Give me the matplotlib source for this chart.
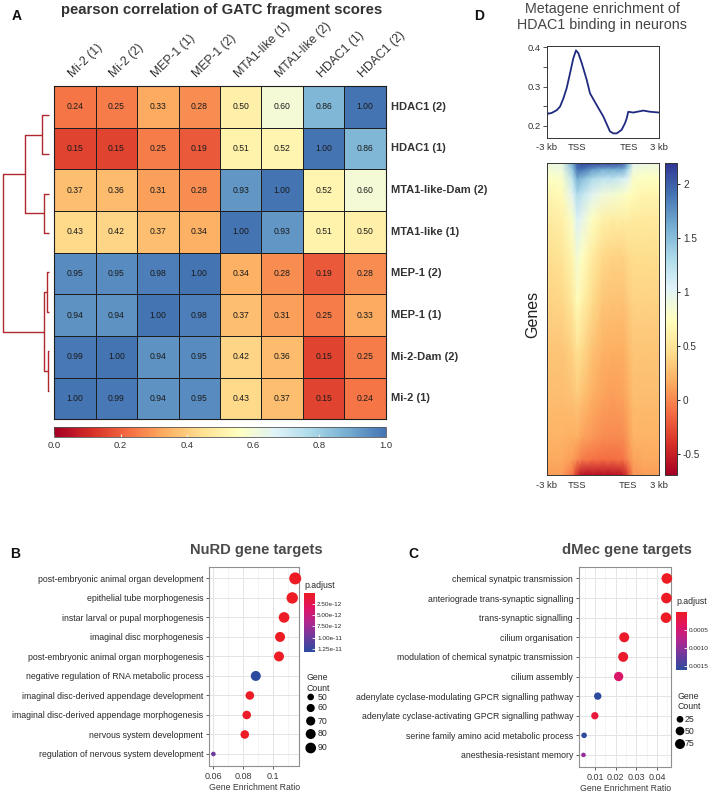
import numpy as np
import matplotlib
matplotlib.use("Agg")
import matplotlib.pyplot as plt
from matplotlib.colors import LinearSegmentedColormap, Normalize
import matplotlib.cm as cm
from matplotlib.ticker import FixedLocator

plt.rcParams['font.family'] = ['Liberation Sans', 'DejaVu Sans']

# ---------------- data ----------------
# Panel A: Pearson correlation heatmap
corr_rows = ["HDAC1 (2)", "HDAC1 (1)", "MTA1-like-Dam (2)", "MTA1-like (1)",
             "MEP-1 (2)", "MEP-1 (1)", "Mi-2-Dam (2)", "Mi-2 (1)"]
corr_cols = ["Mi-2 (1)", "Mi-2 (2)", "MEP-1 (1)", "MEP-1 (2)",
             "MTA1-like (1)", "MTA1-like (2)", "HDAC1 (1)", "HDAC1 (2)"]
corr_values = [
    [0.24, 0.25, 0.33, 0.28, 0.50, 0.60, 0.86, 1.00],
    [0.15, 0.15, 0.25, 0.19, 0.51, 0.52, 1.00, 0.86],
    [0.37, 0.36, 0.31, 0.28, 0.93, 1.00, 0.52, 0.60],
    [0.43, 0.42, 0.37, 0.34, 1.00, 0.93, 0.51, 0.50],
    [0.95, 0.95, 0.98, 1.00, 0.34, 0.28, 0.19, 0.28],
    [0.94, 0.94, 1.00, 0.98, 0.37, 0.31, 0.25, 0.33],
    [0.99, 1.00, 0.94, 0.95, 0.42, 0.36, 0.15, 0.25],
    [1.00, 0.99, 0.94, 0.95, 0.43, 0.37, 0.15, 0.24],
]
corr_cbar_ticks = [0.0, 0.2, 0.4, 0.6, 0.8, 1.0]
# dendrogram merges (leaf indices = row order; new nodes numbered from 8)
dendro_merges = [(0, 1), (2, 3), (4, 5), (6, 7), (8, 9), (10, 11), (12, 13)]
dendro_heights = [0.158, 0.102, 0.050, 0.015, 0.518, 0.102, 1.0]

# Panel D: metagene profile (deepTools bins: 300 up, 500 body, 300 down)
profile_bins = [0, 16, 49, 98, 130, 163, 195, 228, 260, 286, 309, 342, 391, 423,
                488, 553, 618, 651, 684, 732, 765, 780, 797, 846, 944, 1009, 1100]
profile_values = [0.236, 0.231, 0.233, 0.240, 0.249, 0.270, 0.296, 0.334, 0.372,
                  0.392, 0.385, 0.360, 0.317, 0.283, 0.253, 0.224, 0.186, 0.181,
                  0.181, 0.190, 0.207, 0.218, 0.236, 0.234, 0.239, 0.236, 0.234]
profile_xticks = [0, 300, 800, 1100]
profile_xlabels = ["-3 kb", "TSS", "TES", "3 kb"]
profile_yticks = [0.2, 0.3, 0.4]

# Panel D heatmap: coarse grid of enrichment values (genes sorted top->bottom)
heat_bins = [0, 150, 250, 300, 350, 450, 550, 650, 750, 800, 850, 950, 1100]
heat_rows = [0.0, 0.02, 0.05, 0.10, 0.18, 0.30, 0.45, 0.60, 0.75, 0.88, 0.95, 1.0]
heat_values = [
    [0.90, 0.95, 1.60, 2.00, 2.10, 2.10, 2.10, 2.10, 2.00, 1.60, 1.00, 0.95, 0.90],
    [0.85, 0.90, 1.40, 1.90, 1.90, 1.70, 1.60, 1.60, 1.60, 1.30, 0.90, 0.85, 0.85],
    [0.75, 0.80, 1.20, 1.60, 1.50, 1.30, 1.20, 1.20, 1.10, 1.00, 0.80, 0.75, 0.75],
    [0.65, 0.70, 1.00, 1.30, 1.20, 1.00, 0.90, 0.85, 0.80, 0.75, 0.70, 0.65, 0.65],
    [0.55, 0.60, 0.80, 1.05, 0.95, 0.75, 0.62, 0.58, 0.58, 0.58, 0.55, 0.55, 0.55],
    [0.45, 0.50, 0.65, 0.85, 0.75, 0.55, 0.42, 0.38, 0.38, 0.43, 0.45, 0.45, 0.45],
    [0.38, 0.40, 0.52, 0.70, 0.60, 0.42, 0.30, 0.28, 0.28, 0.33, 0.38, 0.38, 0.38],
    [0.30, 0.30, 0.38, 0.48, 0.42, 0.28, 0.20, 0.18, 0.18, 0.24, 0.30, 0.30, 0.30],
    [0.25, 0.25, 0.28, 0.33, 0.28, 0.18, 0.12, 0.10, 0.12, 0.18, 0.25, 0.25, 0.25],
    [0.20, 0.20, 0.18, 0.18, 0.12, 0.06, 0.02, 0.00, 0.02, 0.10, 0.20, 0.20, 0.20],
    [0.15, 0.15, 0.10, 0.02, -0.06, -0.10, -0.12, -0.12, -0.10, 0.02, 0.12, 0.15, 0.15],
    [0.10, 0.10, -0.10, -0.45, -0.60, -0.60, -0.60, -0.60, -0.55, -0.30, 0.05, 0.10, 0.10],
]
heat_range = (-0.70, 2.19)
heat_cbar_ticks = [-0.5, 0, 0.5, 1, 1.5, 2]
heat_cbar_labels = ["-0.5", "0", "0.5", "1", "1.5", "2"]

# Panel B: NuRD gene targets
nurd_terms = ["post-embryonic animal organ development",
              "epithelial tube morphogenesis",
              "instar larval or pupal morphogenesis",
              "imaginal disc morphogenesis",
              "post-embryonic animal organ morphogenesis",
              "negative regulation of RNA metabolic process",
              "imaginal disc-derived appendage development",
              "imaginal disc-derived appendage morphogenesis",
              "nervous system development",
              "regulation of nervous system development"]
nurd_ratio = [0.115, 0.113, 0.1075, 0.1048, 0.1041, 0.0885, 0.0845, 0.0824, 0.0811, 0.0600]
nurd_count = [111, 101, 89, 80, 80, 80, 64, 64, 64, 45]
nurd_padj = [2e-15, 5e-15, 1e-14, 3e-14, 4e-14, 1.32e-11, 2e-13, 3e-13, 1e-13, 1.0e-11]
nurd_xticks = [0.06, 0.08, 0.10]
nurd_xlabels = ["0.06", "0.08", "0.1"]
nurd_padj_ticks = [2.5e-12, 5.0e-12, 7.5e-12, 1.0e-11, 1.25e-11]
nurd_count_legend = [50, 60, 70, 80, 90]

# Panel C: dMec gene targets
dmec_terms = ["chemical synatpic transmission",
              "anteriograde trans-synaptic signalling",
              "trans-synaptic signalling",
              "cilium organisation",
              "modulation of chemical synatpic transmission",
              "cilium assembly",
              "adenylate cyclase-modulating GPCR signalling pathway",
              "adenylate cyclase-activating GPCR signalling pathway",
              "serine family amino acid metabolic process",
              "anesthesia-resistant memory"]
dmec_ratio = [0.0447, 0.0445, 0.0443, 0.0241, 0.0236, 0.0214, 0.0113, 0.0099, 0.0047, 0.0044]
dmec_count = [89, 89, 88, 75, 74, 62, 32, 31, 18, 16]
dmec_padj = [1e-6, 2e-6, 3e-6, 5e-5, 6e-5, 4.5e-4, 1.62e-3, 1.5e-4, 1.6e-3, 1.0e-3]
dmec_xticks = [0.01, 0.02, 0.03, 0.04]
dmec_xlabels = ["0.01", "0.02", "0.03", "0.04"]
dmec_padj_ticks = [0.0005, 0.0010, 0.0015]
dmec_count_legend = [25, 50, 75]

# ---------------- figure helpers ----------------
W, H = 708, 792
DPI = 100
fig = plt.figure(figsize=(W / DPI, H / DPI), dpi=DPI)


def box(l, t, r, b):
    return [l / W, 1 - b / H, (r - l) / W, (b - t) / H]


def fx(x):
    return x / W


def fy(y):
    return 1 - y / H


DARK = '#333333'

# ---------------- Panel A ----------------
cmapA = LinearSegmentedColormap.from_list(
    'rdylbu_a', plt.get_cmap('RdYlBu')(np.linspace(0, 0.9, 64)))
M = np.array(corr_values)
nr, nc = M.shape

axA = fig.add_axes(box(54.3, 86, 385.7, 419.3))
meshA = axA.pcolormesh(np.arange(nc + 1), np.arange(nr + 1), M, cmap=cmapA,
                       vmin=0, vmax=1, edgecolors='#1e1e1e', linewidth=0.7)
axA.set_xlim(0, nc)
axA.set_ylim(nr, 0)
axA.set_xticks([])
axA.set_yticks([])
for s in axA.spines.values():
    s.set_color('#1e1e1e')
    s.set_linewidth(0.8)
for i in range(nr):
    for j in range(nc):
        axA.text(j + 0.5, i + 0.5, f"{M[i, j]:.2f}", ha='center', va='center',
                 fontsize=6.2, color='#1a1a1a')
for j, lab in enumerate(corr_cols):
    axA.text(j + 0.5, -0.15, lab, rotation=45, rotation_mode='anchor',
             ha='left', va='bottom', fontsize=8.8, color=DARK)
for i, lab in enumerate(corr_rows):
    axA.text(nc + 0.13, i + 0.5, lab, ha='left', va='center', fontsize=8,
             fontweight='bold', color=DARK)

# dendrogram
axDen = fig.add_axes(box(0, 95.2, 49, 410.3))
ypos = {i: float(i) for i in range(nr)}
hpos = {i: 0.0 for i in range(nr)}
for k, ((a, b), h) in enumerate(zip(dendro_merges, dendro_heights)):
    node = nr + k
    axDen.plot([hpos[a], h, h, hpos[b]], [ypos[a], ypos[a], ypos[b], ypos[b]],
               color='#b0282e', lw=1.0, solid_capstyle='butt', clip_on=False)
    ypos[node] = (ypos[a] + ypos[b]) / 2
    hpos[node] = h
axDen.set_xlim(1.058, 0)
axDen.set_ylim(nr - 0.5, -0.5)
axDen.axis('off')

# colorbar A
caxA = fig.add_axes(box(54.3, 426.7, 385.7, 436.7))
cbA = fig.colorbar(cm.ScalarMappable(norm=Normalize(0, 1), cmap=cmapA), cax=caxA,
                   orientation='horizontal', ticks=corr_cbar_ticks)
cbA.ax.set_xticklabels([f"{t:.1f}" for t in corr_cbar_ticks])
cbA.ax.tick_params(direction='in', length=2.5, color='#eeeeee', width=0.8,
                   labelsize=6.8, labelcolor=DARK, pad=3)
cbA.outline.set_edgecolor('#555555')
cbA.outline.set_linewidth(0.6)

fig.text(fx(221.5), fy(14), "pearson correlation of GATC fragment scores",
         ha='center', va='baseline', fontsize=10.7, fontweight='bold', color=DARK)
fig.text(fx(12), fy(20), "A", ha='left', va='baseline', fontsize=10,
         fontweight='bold', color='#111111')

# ---------------- Panel D ----------------
fig.text(fx(474), fy(20), "D", ha='left', va='baseline', fontsize=10,
         fontweight='bold', color='#111111')
fig.text(fx(602), fy(13), "Metagene enrichment of", ha='center', va='baseline',
         fontsize=10.3, color='#444444')
fig.text(fx(602), fy(29.5), "HDAC1 binding in neurons", ha='center',
         va='baseline', fontsize=10.3, color='#444444')

axP = fig.add_axes(box(546.7, 45.7, 659.3, 137.7))
axP.plot(profile_bins, profile_values, color='#1f2a80', lw=1.3)
axP.set_xlim(0, 1100)
axP.set_ylim(0.170, 0.404)
axP.set_xticks(profile_xticks)
axP.set_xticklabels(profile_xlabels)
axP.set_yticks(profile_yticks)
axP.set_yticklabels([f"{t:.1f}" for t in profile_yticks])
axP.yaxis.set_minor_locator(FixedLocator([0.25, 0.35]))
axP.tick_params(axis='x', length=0, labelsize=6.8, labelcolor=DARK, pad=4)
axP.tick_params(axis='y', which='both', length=3, width=0.6, labelsize=6.8,
                labelcolor=DARK, pad=1.5, color='#333333')
for s in axP.spines.values():
    s.set_linewidth(0.7)
    s.set_color('#333333')

cmapD = plt.get_cmap('RdYlBu')
normD = Normalize(*heat_range)
axH = fig.add_axes(box(546.7, 163.3, 658.7, 475.3))
HX, HY = np.meshgrid(heat_bins, heat_rows)
axH.pcolormesh(HX, HY, np.array(heat_values), cmap=cmapD, norm=normD,
               shading='gouraud', rasterized=True)
axH.set_xlim(0, 1100)
axH.set_ylim(1, 0)
axH.set_xticks(profile_xticks)
axH.set_xticklabels(profile_xlabels)
axH.set_yticks([])
axH.tick_params(axis='x', length=0, labelsize=6.8, labelcolor=DARK, pad=4)
for s in axH.spines.values():
    s.set_linewidth(0.7)
    s.set_color('#333333')
fig.text(fx(533), fy(314), "Genes", rotation=90, ha='center', va='center',
         fontsize=11.5, color='#222222')

caxD = fig.add_axes(box(665, 163.3, 676.7, 475.3))
cbD = fig.colorbar(cm.ScalarMappable(norm=normD, cmap=cmapD), cax=caxD,
                   ticks=heat_cbar_ticks)
cbD.ax.set_yticklabels(heat_cbar_labels)
cbD.ax.tick_params(length=2.5, width=0.6, labelsize=7.2, labelcolor=DARK, pad=2)
cbD.outline.set_linewidth(0.7)
cbD.outline.set_edgecolor('#333333')

# ---------------- Panels B and C ----------------
cmapP = LinearSegmentedColormap.from_list(
    'padj', ['#ED1C24', '#DF1464', '#B02890', '#6C3A9C', '#2D4B9E'])


def size_pts(c, cmin, cmax, dmin, dmax):
    frac = np.clip((np.asarray(c, float) - cmin) / (cmax - cmin), 0, 1)
    d = dmin + (dmax - dmin) * np.sqrt(frac)
    return (d * 72 / DPI) ** 2


def dot_panel(rect, terms, ratio, count, padj, xticks, xlabels, padj_ticks,
              padj_fmt, count_legend, dmin, dmax, title, title_x, letter,
              letter_x, cbar_rect, ptitle_xy, legend_geo):
    ax = fig.add_axes(box(*rect))
    n = len(terms)
    y = np.arange(n)
    cmin, cmax = min(count), max(count)
    norm = Normalize(min(padj), max(padj))
    ax.set_axisbelow(True)
    ax.scatter(ratio, y, s=size_pts(count, cmin, cmax, dmin, dmax), c=padj,
               cmap=cmapP, norm=norm, linewidths=0, zorder=3, clip_on=False)
    lo, hi = min(ratio), max(ratio)
    r = hi - lo
    ax.set_xlim(lo - 0.05 * r, hi + 0.05 * r)
    ax.set_ylim(n - 0.4, -0.6)
    ax.set_yticks(y)
    ax.set_yticklabels(terms)
    ax.set_xticks(xticks)
    ax.set_xticklabels(xlabels)
    minors = [(a + b) / 2 for a, b in zip(xticks[:-1], xticks[1:])]
    step = xticks[1] - xticks[0]
    minors = [xticks[0] - step / 2] + minors + [xticks[-1] + step / 2]
    ax.xaxis.set_minor_locator(FixedLocator(minors))
    ax.grid(True, which='major', color='#e4e4e4', lw=0.7)
    ax.grid(True, which='minor', axis='x', color='#efefef', lw=0.45)
    ax.tick_params(axis='both', which='major', length=2.5, width=0.6,
                   color='#444444', labelsize=6.3, labelcolor='#2a2a2a', pad=2)
    ax.tick_params(axis='x', which='minor', length=0)
    ax.tick_params(axis='x', labelsize=6.5, labelcolor='#3a3a3a', pad=2)
    for s in ax.spines.values():
        s.set_color('#8f8f8f')
        s.set_linewidth(0.8)
    ax.set_xlabel("Gene Enrichment Ratio", fontsize=6.3, color='#3a3a3a',
                  labelpad=1.5)
    fig.text(fx(title_x), fy(554), title, ha='center', va='baseline',
             fontsize=10.6, fontweight='bold', color='#4a4a4a')
    fig.text(fx(letter_x), fy(558), letter, ha='left', va='baseline',
             fontsize=10, fontweight='bold', color='#111111')
    # p.adjust colorbar
    fig.text(fx(ptitle_xy[0]), fy(ptitle_xy[1]), "p.adjust", ha='left',
             va='center', fontsize=6.3, color='#2a2a2a')
    cax = fig.add_axes(box(*cbar_rect))
    cb = fig.colorbar(cm.ScalarMappable(norm=norm, cmap=cmapP), cax=cax,
                      ticks=padj_ticks)
    cax.invert_yaxis()
    cb.ax.set_yticklabels([padj_fmt(t) for t in padj_ticks])
    cb.ax.tick_params(direction='in', length=2, color='white', width=0.6,
                      labelsize=4.6, labelcolor='#2a2a2a', pad=1.5)
    cb.outline.set_visible(False)
    # gene count legend
    gtx, gty, cx, cys, lx = legend_geo
    fig.text(fx(gtx), fy(gty), "Gene\nCount", ha='left', va='center',
             fontsize=6.3, color='#2a2a2a', linespacing=1.15)
    axL = fig.add_axes([0, 0, 1, 1], facecolor='none')
    axL.set_xlim(0, W)
    axL.set_ylim(H, 0)
    axL.axis('off')
    axL.scatter([cx] * len(count_legend), cys,
                s=size_pts(count_legend, cmin, cmax, dmin, dmax),
                color='black', linewidths=0)
    for v, yy in zip(count_legend, cys):
        axL.text(lx, yy, str(v), ha='left', va='center', fontsize=6.3,
                 color='#2a2a2a')
    return ax


dot_panel((209.3, 566.7, 299.3, 765.7), nurd_terms, nurd_ratio, nurd_count,
          nurd_padj, nurd_xticks, nurd_xlabels, nurd_padj_ticks,
          lambda t: f"{t:.2e}", nurd_count_legend, 4.6, 12.0,
          "NuRD gene targets", 256.5, "B", 10,
          (304, 593.3, 315, 651.7), (304, 585),
          (306.5, 683, 310.7, [697, 708, 721, 734, 748], 318))

dot_panel((579.3, 566.7, 671, 766.7), dmec_terms, dmec_ratio, dmec_count,
          dmec_padj, dmec_xticks, dmec_xlabels, dmec_padj_ticks,
          lambda t: f"{t:.4f}", dmec_count_legend, 4.6, 10.6,
          "dMec gene targets", 627, "C", 408,
          (676, 611.7, 686.7, 670), (676, 601.7),
          (677, 701.7, 680, [719.3, 731, 744], 685))

fig.savefig("out.png", dpi=DPI)
